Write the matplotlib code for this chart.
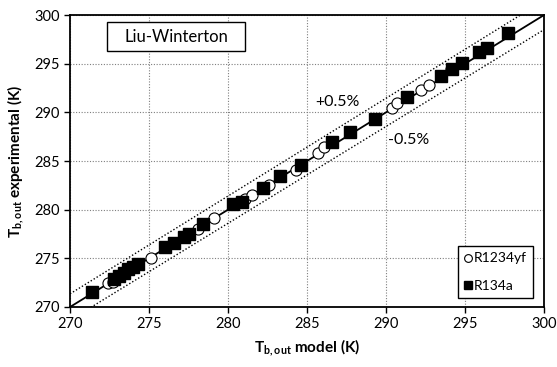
import numpy as np
import matplotlib.pyplot as plt
from matplotlib.patches import Rectangle

plt.rcParams['font.family'] = ['Lato', 'DejaVu Sans']
plt.rcParams['mathtext.fontset'] = 'custom'
plt.rcParams['mathtext.rm'] = 'Lato'
plt.rcParams['mathtext.bf'] = 'Lato:bold'

# measured vs. predicted outlet temperature (K)
r1234yf_model = [272.4, 272.7, 275.1, 278.1, 279.1, 281.1, 281.5, 282.6, 284.3,
                 285.7, 286.1, 290.4, 290.7, 292.2, 292.7, 294.1]
r1234yf_exp = [272.5, 272.6, 275.0, 278.0, 279.1, 281.1, 281.5, 282.5, 284.1,
               285.8, 286.4, 290.4, 291.0, 292.3, 292.8, 294.5]

r134a_model = [271.4, 272.8, 273.1, 273.4, 273.7, 274.0, 274.3, 276.0, 276.6,
               277.2, 277.5, 278.4, 280.3, 280.9, 282.2, 283.3, 284.6, 286.6,
               287.7, 289.3, 291.3, 293.5, 294.2, 294.8, 295.9, 296.4, 297.7]
r134a_exp = [271.5, 272.9, 273.2, 273.5, 273.9, 274.1, 274.4, 276.2, 276.6,
             277.2, 277.5, 278.5, 280.6, 280.8, 282.2, 283.5, 284.6, 287.0,
             288.0, 289.3, 291.6, 293.7, 294.5, 295.1, 296.2, 296.6, 298.2]

band = 0.005
lims = (270, 300)

fig = plt.figure(figsize=(5.57, 3.67), dpi=100)
ax = fig.add_axes([0.1257, 0.1635, 0.851, 0.7955])

# 1:1 line and +/-0.5% band
xl = np.array(lims)
ax.plot(xl, xl, color='black', lw=1.3, zorder=2)
ax.plot(xl, xl * (1 + band), color='black', lw=1.0, ls=(0, (1, 1.5)), zorder=2)
ax.plot(xl, xl * (1 - band), color='black', lw=1.0, ls=(0, (1, 1.5)), zorder=2)

ax.plot(r1234yf_model, r1234yf_exp, 'o', ms=8, mfc='white', mec='black',
        mew=0.8, ls='none', label='R1234yf', zorder=3)
ax.plot(r134a_model, r134a_exp, 's', ms=8.5, mfc='black', mec='black',
        ls='none', label='R134a', zorder=4)

ax.set_xlim(*lims)
ax.set_ylim(*lims)
ax.set_xticks(np.arange(270, 301, 5))
ax.set_yticks(np.arange(270, 301, 5))
ax.tick_params(direction='out', length=4, width=1, labelsize=10.5, colors='black')
ax.grid(True, color='#7f7f7f', lw=0.8, ls=(0, (1, 1.5)))
ax.set_axisbelow(True)
for side in ax.spines.values():
    side.set_linewidth(1.3)
    side.set_color('black')

ax.set_xlabel(r'$\mathbf{T}_{\mathbf{b,out}}$ model (K)', fontsize=11,
              fontweight='bold', labelpad=4)
ax.set_ylabel(r'$\mathbf{T}_{\mathbf{b,out}}$ experimental (K)', fontsize=11,
              fontweight='bold', labelpad=6)

ax.text(286.9, 291.1, '+0.5%', fontsize=11.5, ha='center', va='center', zorder=5)
ax.text(291.4, 287.2, '-0.5%', fontsize=11.5, ha='center', va='center', zorder=5)

# model name box
ax.add_patch(Rectangle((0.078, 0.877), 0.291, 0.099, transform=ax.transAxes,
                       fc='white', ec='black', lw=1.0, zorder=5))
ax.text(0.2235, 0.9265, 'Liu-Winterton', transform=ax.transAxes, fontsize=12,
        ha='center', va='center', zorder=6)

leg = ax.legend(loc='lower right', bbox_to_anchor=(0.977, 0.031), fontsize=10,
                frameon=True, fancybox=False, edgecolor='black', framealpha=1,
                handlelength=0.5, handletextpad=0.2, borderpad=0.45,
                labelspacing=1.1, borderaxespad=0, markerscale=0.7)
leg.get_frame().set_linewidth(1.0)

fig.savefig('out.png', dpi=100)
